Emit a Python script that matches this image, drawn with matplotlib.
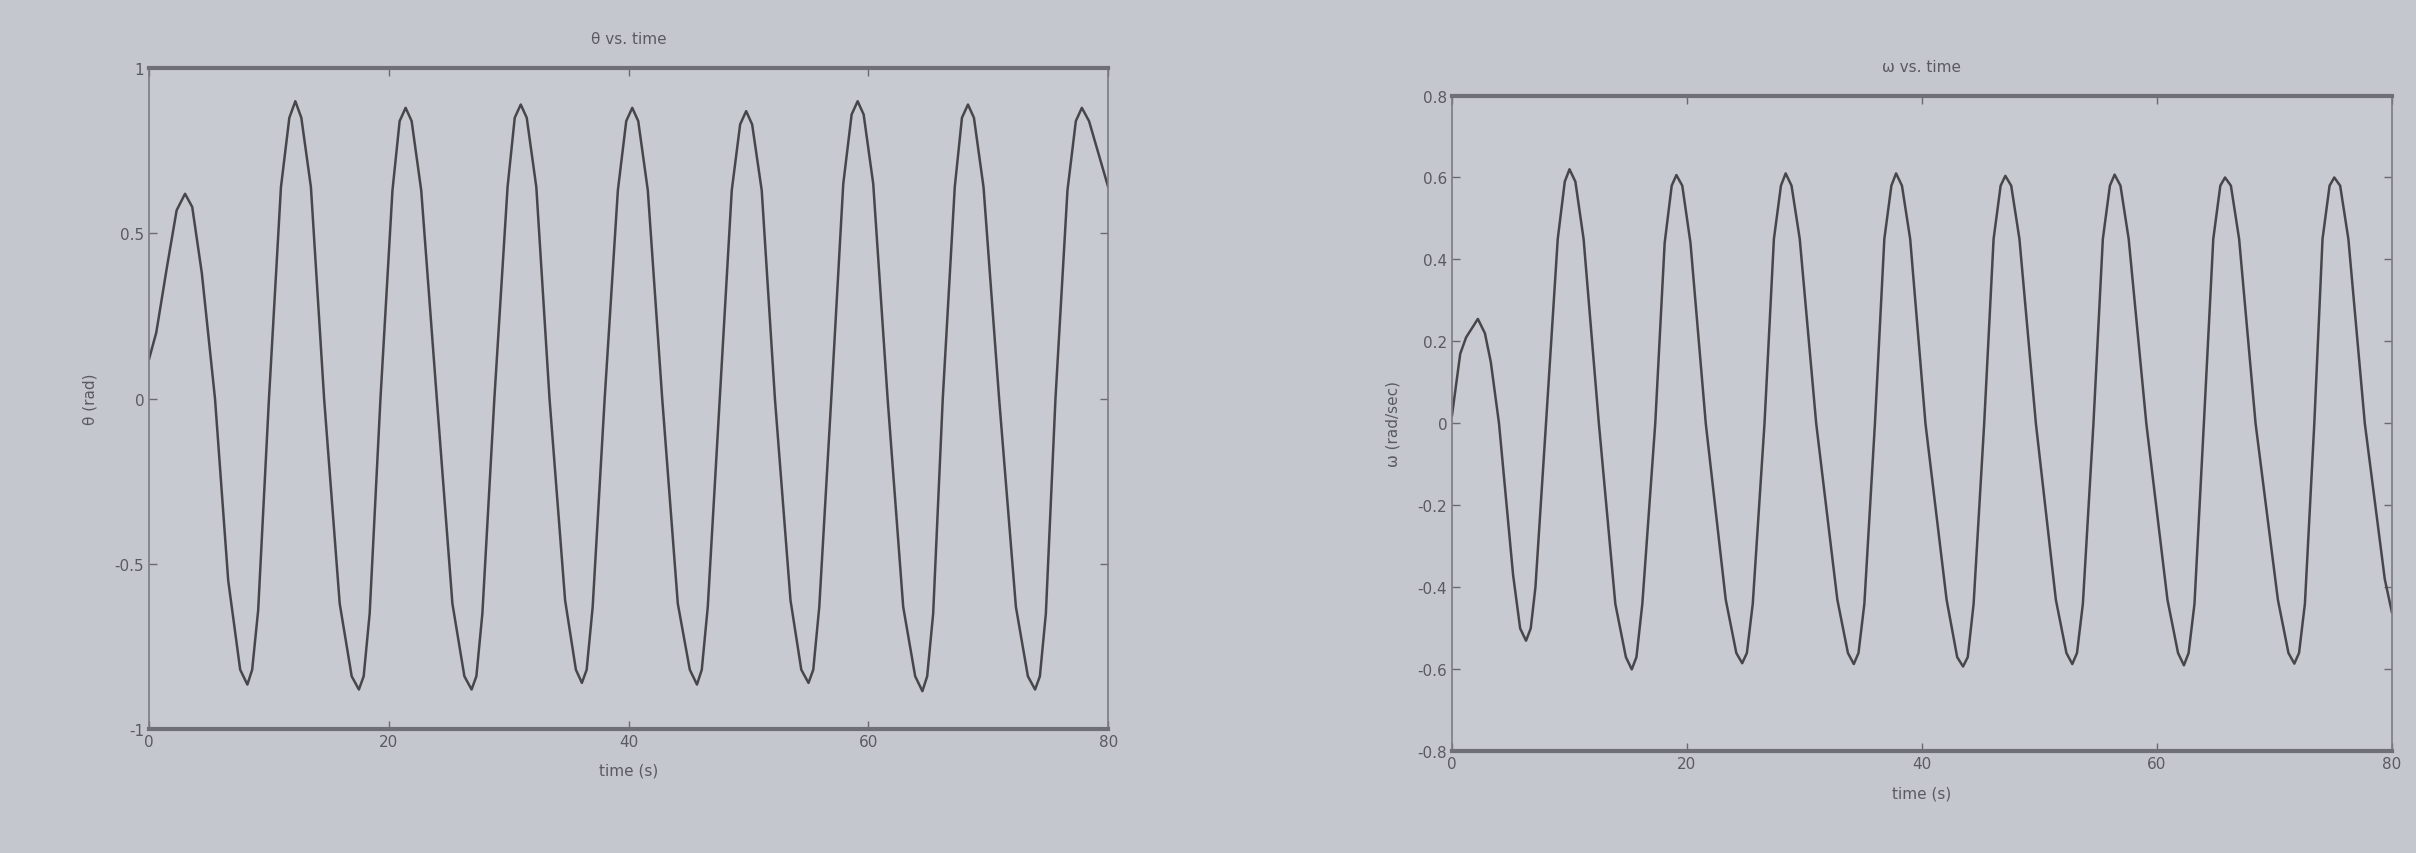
import matplotlib
matplotlib.use("Agg")
import matplotlib.pyplot as plt

# values: theta (left) and omega (right) against time
# one row per swing, times and values in matching rows
theta_t = [0.0, 0.6, 1.5, 2.3, 3.0, 3.6, 4.4, 5.5, 6.6, 7.6, 8.2,
           8.6, 9.1, 10.0, 11.0, 11.7, 12.2, 12.7, 13.5, 14.6, 15.9, 16.9, 17.5,
           17.9, 18.4, 19.3, 20.3, 20.9, 21.4, 21.9, 22.7, 24.0, 25.3, 26.3, 26.9,
           27.3, 27.8, 28.8, 29.9, 30.5, 31.0, 31.5, 32.3, 33.4, 34.7, 35.6, 36.1,
           36.5, 37.0, 38.0, 39.1, 39.8, 40.3, 40.8, 41.6, 42.8, 44.1, 45.1, 45.7,
           46.1, 46.6, 47.6, 48.6, 49.3, 49.8, 50.3, 51.1, 52.2, 53.5, 54.4, 55.0,
           55.4, 55.9, 56.9, 57.9, 58.6, 59.1, 59.6, 60.4, 61.6, 62.9, 63.9, 64.5,
           64.9, 65.4, 66.2, 67.2, 67.8, 68.3, 68.8, 69.6, 70.9, 72.3, 73.3, 73.9,
           74.3, 74.8, 75.6, 76.6, 77.3, 77.8, 78.4, 79.2, 80.0]
theta_v = [0.12, 0.20, 0.40, 0.57, 0.62, 0.58, 0.38, 0.0, -0.55, -0.82, -0.865,
           -0.82, -0.64, 0.0, 0.64, 0.85, 0.90, 0.85, 0.64, 0.0, -0.62, -0.84, -0.88,
           -0.84, -0.65, 0.0, 0.63, 0.84, 0.88, 0.84, 0.63, 0.0, -0.62, -0.84, -0.88,
           -0.84, -0.65, 0.0, 0.64, 0.85, 0.89, 0.85, 0.64, 0.0, -0.61, -0.82, -0.86,
           -0.82, -0.63, 0.0, 0.63, 0.84, 0.88, 0.84, 0.63, 0.0, -0.62, -0.82, -0.865,
           -0.82, -0.63, 0.0, 0.63, 0.83, 0.87, 0.83, 0.63, 0.0, -0.61, -0.82, -0.86,
           -0.82, -0.63, 0.0, 0.65, 0.86, 0.90, 0.86, 0.65, 0.0, -0.63, -0.84, -0.885,
           -0.84, -0.65, 0.0, 0.64, 0.85, 0.89, 0.85, 0.64, 0.0, -0.63, -0.84, -0.88,
           -0.84, -0.65, 0.0, 0.63, 0.84, 0.88, 0.84, 0.74, 0.64]

omega_t = [0.0, 0.7, 1.2, 2.2, 2.8, 3.3, 4.0, 5.2, 5.8, 6.3,
           6.7, 7.1, 8.0, 9.0, 9.6, 10.0, 10.5, 11.2, 12.5, 13.9, 14.8, 15.3,
           15.7, 16.2, 17.3, 18.1, 18.7, 19.1, 19.6, 20.3, 21.6, 23.3, 24.2, 24.7,
           25.1, 25.6, 26.6, 27.4, 28.0, 28.4, 28.9, 29.6, 31.0, 32.8, 33.7, 34.2,
           34.6, 35.1, 36.0, 36.8, 37.4, 37.8, 38.3, 39.0, 40.3, 42.1, 43.0, 43.5,
           43.9, 44.4, 45.3, 46.1, 46.7, 47.1, 47.6, 48.3, 49.7, 51.4, 52.3, 52.8,
           53.2, 53.7, 54.6, 55.4, 56.0, 56.4, 56.9, 57.6, 59.1, 60.9, 61.8, 62.3,
           62.7, 63.2, 64.0, 64.8, 65.4, 65.8, 66.3, 67.0, 68.4, 70.3, 71.2, 71.7,
           72.1, 72.6, 73.4, 74.1, 74.7, 75.1, 75.6, 76.3, 77.7, 79.4, 80.0]
omega_v = [0.02, 0.17, 0.21, 0.255, 0.22, 0.15, 0.0, -0.37, -0.50, -0.53,
           -0.50, -0.40, 0.0, 0.45, 0.59, 0.62, 0.59, 0.45, 0.0, -0.44, -0.57, -0.60,
           -0.57, -0.44, 0.0, 0.44, 0.58, 0.606, 0.58, 0.44, 0.0, -0.43, -0.56, -0.585,
           -0.56, -0.44, 0.0, 0.45, 0.58, 0.61, 0.58, 0.45, 0.0, -0.43, -0.56, -0.587,
           -0.56, -0.44, 0.0, 0.45, 0.58, 0.61, 0.58, 0.45, 0.0, -0.43, -0.57, -0.593,
           -0.57, -0.44, 0.0, 0.45, 0.58, 0.604, 0.58, 0.45, 0.0, -0.43, -0.56, -0.587,
           -0.56, -0.44, 0.0, 0.45, 0.58, 0.607, 0.58, 0.45, 0.0, -0.43, -0.56, -0.59,
           -0.56, -0.44, 0.0, 0.45, 0.58, 0.60, 0.58, 0.45, 0.0, -0.43, -0.56, -0.586,
           -0.56, -0.44, 0.0, 0.45, 0.58, 0.60, 0.58, 0.45, 0.0, -0.38, -0.46]

x_ticks = [0, 20, 40, 60, 80]
x_labels = ["0", "20", "40", "60", "80"]
theta_ticks = [-1, -0.5, 0, 0.5, 1]
theta_labels = ["-1", "-0.5", "0", "0.5", "1"]
omega_ticks = [-0.8, -0.6, -0.4, -0.2, 0, 0.2, 0.4, 0.6, 0.8]
omega_labels = ["-0.8", "-0.6", "-0.4", "-0.2", "0", "0.2", "0.4", "0.6", "0.8"]

paper = "#c5c7ce"
ink = "#47474b"
text_col = "#5a5b60"

fig = plt.figure(figsize=(24.16, 8.54), dpi=100, facecolor=paper)
ax1 = fig.add_axes([0.0617, 0.145, 0.397, 0.774])
ax2 = fig.add_axes([0.601, 0.119, 0.389, 0.768])

panels = [
    (ax1, theta_t, theta_v, (-1, 1), theta_ticks, theta_labels,
     "\u03b8 (rad)", "\u03b8 vs. time"),
    (ax2, omega_t, omega_v, (-0.8, 0.8), omega_ticks, omega_labels,
     "\u03c9 (rad/sec)", "\u03c9 vs. time"),
]

for ax, t, v, ylim, yt, ylab, ylabel, title in panels:
    ax.set_facecolor("#c8cad1")
    ax.plot(t, v, color=ink, linewidth=1.8)
    ax.set_xlim(0, 80)
    ax.set_ylim(*ylim)
    ax.set_xticks(x_ticks)
    ax.set_xticklabels(x_labels)
    ax.set_yticks(yt)
    ax.set_yticklabels(ylab)
    ax.tick_params(direction="in", length=6, width=1, colors="#6a6b70",
                   labelcolor=text_col, labelsize=11, top=True, right=True)
    for side in ["top", "bottom"]:
        ax.spines[side].set_linewidth(3.0)
        ax.spines[side].set_color("#6e7076")
    for side in ["left", "right"]:
        ax.spines[side].set_linewidth(1.2)
        ax.spines[side].set_color("#7a7c82")
    ax.set_xlabel("time (s)", fontsize=11, color=text_col, labelpad=10)
    ax.set_ylabel(ylabel, fontsize=11, color=text_col, labelpad=12)
    ax.set_title(title, fontsize=11, color=text_col, pad=18)

fig.savefig("out.png", dpi=100, facecolor=paper)
